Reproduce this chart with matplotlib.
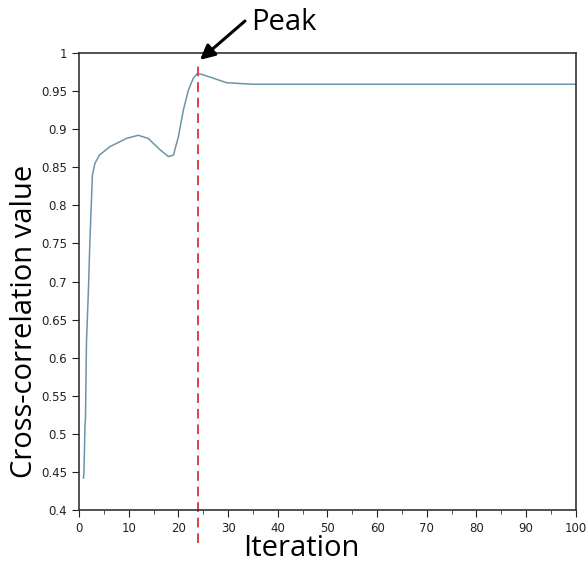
import matplotlib
matplotlib.use('Agg')
import matplotlib.pyplot as plt
from matplotlib.ticker import MultipleLocator, FuncFormatter

# values
iteration = [0.9, 1.0, 1.2, 1.3, 1.5, 1.9, 2.2, 2.7, 3.2, 4.1, 6.2, 9.6, 11.9,
             13.9, 16.3, 18.0, 19.0, 20.0, 21.0, 22.0, 23.0, 23.8, 24.7, 27.0,
             29.7, 32.4, 35.0, 50.0, 75.0, 100.0]
correlation = [0.442, 0.45, 0.51, 0.52, 0.62, 0.69, 0.755, 0.84, 0.855, 0.866,
               0.877, 0.888, 0.892, 0.888, 0.873, 0.864, 0.866, 0.89, 0.925,
               0.951, 0.967, 0.973, 0.972, 0.967, 0.961, 0.960, 0.959, 0.959,
               0.959, 0.959]
peak_iter = 24

label_font = ['Open Sans', 'DejaVu Sans']

fig = plt.figure(figsize=(5.87, 5.64), dpi=100)
ax = fig.add_axes([0.1346, 0.0957, 0.8464, 0.8103])

ax.plot(iteration, correlation, color='#6c95a8', lw=1.1)
ax.plot([peak_iter, peak_iter], [0.357, 0.99], color='#e0404a', lw=1.4,
        ls=(0, (5, 3)), clip_on=False)

ax.set_xlim(0, 100)
ax.set_ylim(0.4, 1)
ax.xaxis.set_major_locator(MultipleLocator(10))
ax.xaxis.set_minor_locator(MultipleLocator(5))
ax.yaxis.set_major_locator(MultipleLocator(0.05))
ax.yaxis.set_major_formatter(FuncFormatter(lambda v, p: '%g' % round(v, 2)))
ax.tick_params(which='both', direction='out', top=False, right=False,
               color='#333333')
ax.tick_params(which='major', length=5, labelsize=8.5, colors='#222222')
ax.tick_params(which='minor', length=3)
for sp in ax.spines.values():
    sp.set_color('#333333')
    sp.set_linewidth(1.2)

ax.set_xlabel('Iteration', fontsize=21, family=label_font, va='center')
ax.xaxis.set_label_coords(0.447, -0.084)
ax.set_ylabel('Cross-correlation value', fontsize=21, family=label_font,
              va='center')
ax.yaxis.set_label_coords(-0.11, 0.413)

# arrow and text placed separately
ax.annotate('', xy=(24.35, 0.991), xytext=(33.4, 1.042),
            annotation_clip=False,
            arrowprops=dict(arrowstyle='-|>', color='black', lw=2.2,
                            mutation_scale=22, shrinkA=0, shrinkB=0))
ax.text(34.6, 1.04, 'Peak', fontsize=21, family=label_font, va='center',
        ha='left')

fig.savefig('out.png', dpi=100)
